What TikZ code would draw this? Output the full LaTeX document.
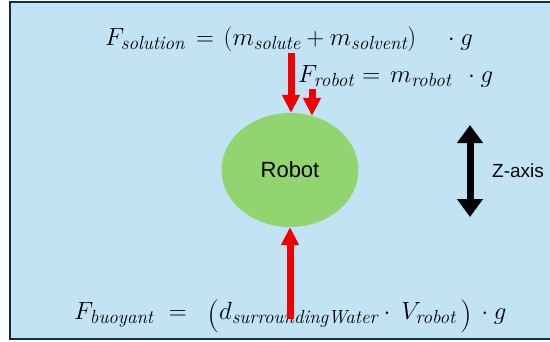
\documentclass[tikz,border=0pt]{standalone}
\usepackage{fontspec}
\newfontfamily\labelfont{Liberation Sans}
\usetikzlibrary{arrows.meta,shapes.geometric}
\newcommand\sbt[1]{\hbox{\fontsize{19}{22}\selectfont\itshape #1}}
\newcommand\bigparen[1]{\raisebox{-5pt}{\fontsize{33}{36}\selectfont #1}}
\definecolor{bgblue}{HTML}{C2E3F3}
\definecolor{framecol}{HTML}{10303F}
\definecolor{robotgreen}{HTML}{92D46F}
\definecolor{forcered}{HTML}{F00000}
\begin{document}
\begin{tikzpicture}[x=1pt,y=-1pt,
  force/.style={draw=forcered, line width=7pt, -{Triangle[width=17pt,length=18pt]}},
  zarrow/.style={draw=black, line width=7pt, {Triangle[width=25pt,length=18pt]}-{Triangle[width=25pt,length=18pt]}},
  eq/.style={inner sep=0pt, font=\fontsize{24}{28}\selectfont},
  lab/.style={inner sep=0pt, font=\labelfont\fontsize{19}{23}\selectfont},
  robotshape/.style={ellipse, fill=robotgreen, minimum width=137pt, minimum height=114pt, inner sep=0pt, font=\labelfont\fontsize{22}{26}\selectfont}]
\useasboundingbox (0,0) rectangle (550,341);
\draw[framecol, line width=2pt, fill=bgblue] (10,2) rectangle (600,339);
% robot
\node[robotshape] (robot) at (290,170) {Robot};
% equations
\node[eq, anchor=base west] (fsol) at (105,45) {$F_{\sbt{solution}}\mkern3mu=\mkern2mu(m_{\sbt{solute}} + m_{\sbt{solvent}})\;\mkern14mu\cdot g$};
\node[eq, anchor=base west] (frob) at (298,82) {$F_{\sbt{robot}}\mkern1mu=\mkern2mu m_{\sbt{robot}}\mkern8mu\cdot g$};
\node[eq, anchor=base west] (fbuoy) at (74,319) {$F_{\sbt{buoyant}}\mkern6mu=\mkern10mu\mathopen{\bigparen{(}}d_{\sbt{surroundingWater}}\cdot\mkern4mu V_{\sbt{robot}}\mkern3mu\mathclose{\bigparen{)}}\mkern3mu\cdot g$};
% forces
\coordinate (a1) at (291,53);
\coordinate (a2) at (312,89);
\coordinate (b1) at (290,319);
\draw[force] (a1) -- (a1 |- robot.north);
\draw[force] (a2) -- (a2 |- robot.68);
\draw[force] (b1) -- (robot.south);
% z axis
\coordinate (z1) at (470,125);
\coordinate (z2) at (470,217);
\draw[zarrow] (z1) -- (z2);
\node[lab, anchor=west] (zlab) at (492,170.5) {Z-axis};
\end{tikzpicture}
\end{document}
